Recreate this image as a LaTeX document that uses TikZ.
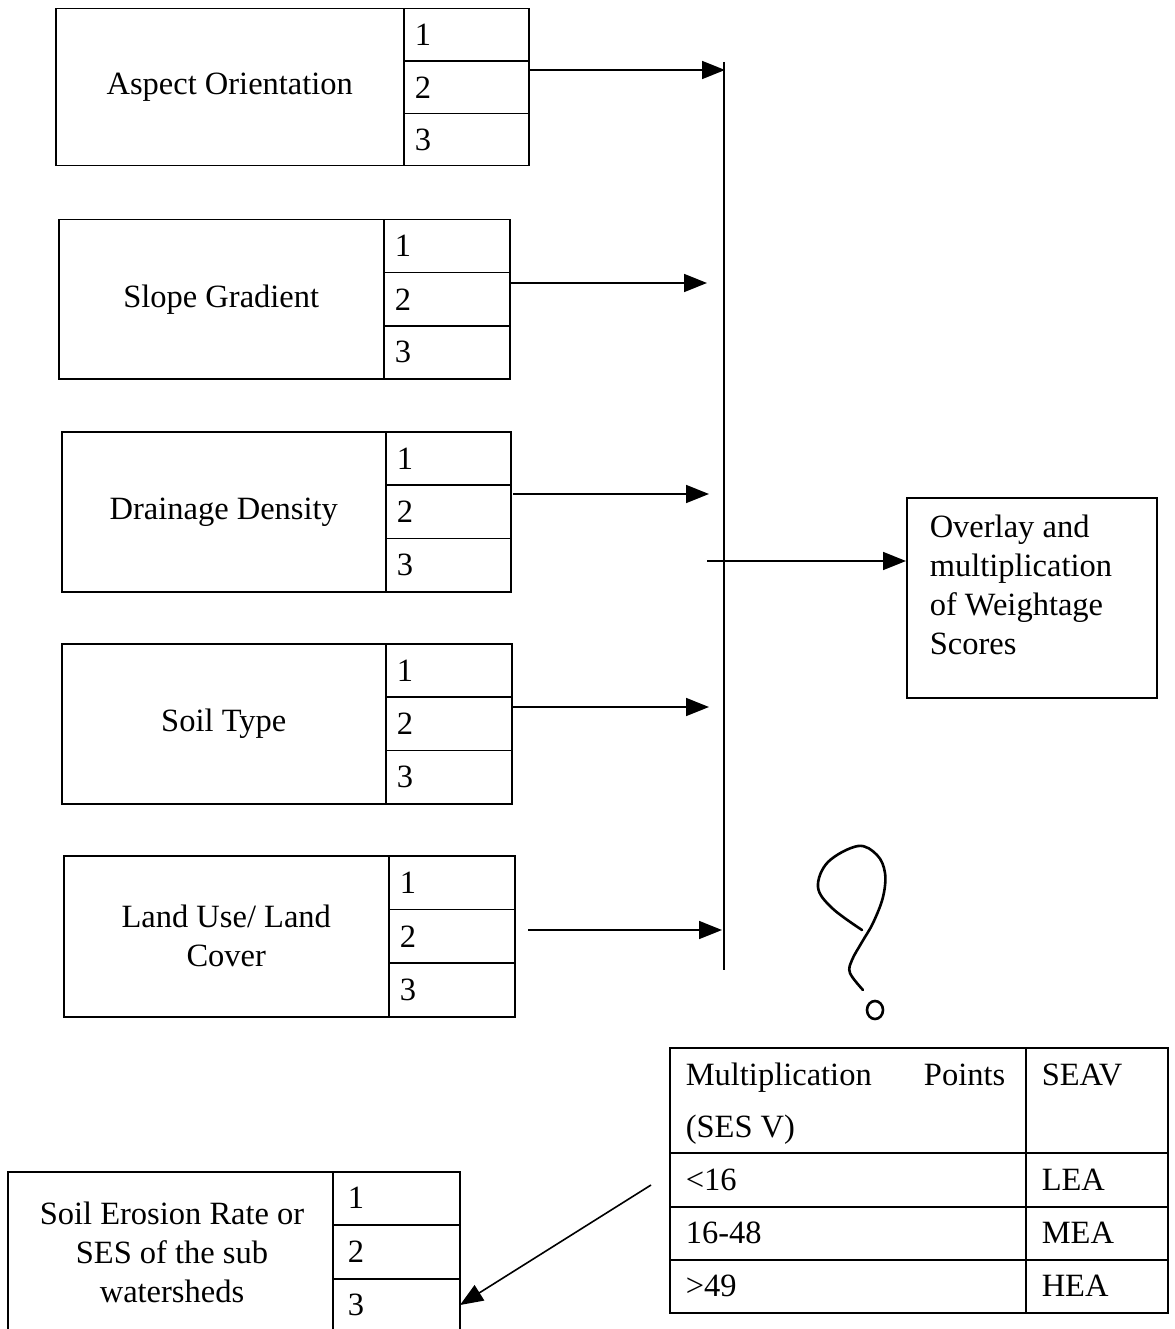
\documentclass[tikz,border=0pt]{standalone}
\usepackage{fontspec}
\setmainfont{Liberation Serif}
\usetikzlibrary{arrows.meta}
\newcommand\catbox[7]{%
  \node[cell, minimum width={(#6-#2)*1pt}, minimum height={(#5-#3)*1pt}] (#1) at (#2,#3) {};
  \node[lbl] at (#1.center) {#7};
  \foreach \i in {1,2,3} {
    \node[cell, minimum width={(#4-#6)*1pt}, minimum height={(#5-#3)/3*1pt}] (#1\i) at (#6,{#3+(\i-1)*(#5-#3)/3}) {};
    \node[dig] at ([xshift=11pt]#1\i.west) {\i};
  }
}
\begin{document}
\begin{tikzpicture}[x=1pt,y=-1pt,line width=1.5pt,
  cell/.style={draw,line width=1.5pt,inner sep=0pt,anchor=north west},
  lbl/.style={font=\fontsize{32.5}{39}\selectfont,align=center},
  dig/.style={font=\fontsize{32.5}{39}\selectfont,anchor=west,inner sep=0pt},
  txt/.style={font=\fontsize{32.5}{39}\selectfont,inner sep=0pt},
  conn/.style={line width=1.6pt,-{Triangle[length=23pt,width=18pt]}}]
\useasboundingbox (0,0) rectangle (1174,1329);

\catbox{A}{55}{8}{528}{165}{403}{Aspect Orientation}
\catbox{B}{58}{219}{509}{378}{383}{Slope Gradient}
\catbox{C}{61}{431}{510}{591}{385}{Drainage Density}
\catbox{D}{61}{643}{511}{803}{385}{Soil Type}
\catbox{E}{63}{855}{514}{1016}{388}{Land Use/ Land\\Cover}

% bus line
\coordinate (busT) at (724,62);
\coordinate (busB) at (724,970);
\draw[line width=1.8pt] (busT) -- (busB);

% arrows into the bus
\coordinate (sA) at (530,70);  \coordinate (tA) at (725,70);
\coordinate (sB) at (511,283); \coordinate (tB) at (707,283);
\coordinate (sC) at (513,494); \coordinate (tC) at (709,494);
\coordinate (sD) at (513,707); \coordinate (tD) at (709,707);
\coordinate (sE) at (528,930); \coordinate (tE) at (722,930);
\draw[conn] (sA) -- (tA);
\draw[conn] (sB) -- (tB);
\draw[conn] (sC) -- (tC);
\draw[conn] (sD) -- (tD);
\draw[conn] (sE) -- (tE);

% overlay box
\node[cell,minimum width=250pt,minimum height=200pt] (ov) at (906,497) {};
\node[txt,anchor=north west,align=left] at (929,514)
  {Overlay and\\multiplication\\of Weightage\\Scores};
\coordinate (m0) at (707,561);
\draw[conn] (m0) -- (m0 -| ov.west);

% handwritten mark
\draw[line width=2.6pt,line cap=round,line join=round] plot[smooth,tension=0.6] coordinates
  {(862,930) (832,908) (818,887) (828,862) (858,846) (877,855) (885,873) (883,897) (873,923) (862,942) (852,960) (850,973) (863,990)};
\draw[line width=2.6pt] (875,1010) ellipse [x radius=8pt,y radius=9pt];

% table
\node[cell,minimum width=498pt,minimum height=265pt] (tab) at (669,1047) {};
\draw (1026,1047) -- (1026,1312);
\draw (669,1153) -- (1167,1153);
\draw (669,1207) -- (1167,1207);
\draw (669,1260) -- (1167,1260);
\node[txt,anchor=base west] at (685,1085) {Multiplication};
\node[txt,anchor=base east] at (1006,1085) {Points};
\node[txt,anchor=base west] at (685,1137) {(SES V)};
\node[txt,anchor=base west] at (1041,1085) {SEAV};
\node[txt,anchor=base west] at (685,1190) {<16};
\node[txt,anchor=base west] at (685,1243) {16-48};
\node[txt,anchor=base west] at (685,1296) {>49};
\node[txt,anchor=base west] at (1041,1190) {LEA};
\node[txt,anchor=base west] at (1041,1243) {MEA};
\node[txt,anchor=base west] at (1041,1296) {HEA};

% bottom-left box (cut at page bottom)
\draw (8,1329) -- (8,1172) -- (460,1172) -- (460,1329);
\draw (333,1172) -- (333,1329);
\draw (333,1225) -- (460,1225);
\draw (333,1279) -- (460,1279);
\node[lbl] (ses) at (172,1252) {Soil Erosion Rate or\\SES of the sub\\watersheds};
\node[dig] (s1) at (347,1198) {1};
\node[dig] (s2) at (347,1252) {2};
\node[dig] (s3) at (347,1305) {3};
\coordinate (tabfrom) at (651,1185);
\coordinate (s3tip) at (460,1305);
\draw[conn] (tabfrom) -- (s3tip);
\end{tikzpicture}
\end{document}
